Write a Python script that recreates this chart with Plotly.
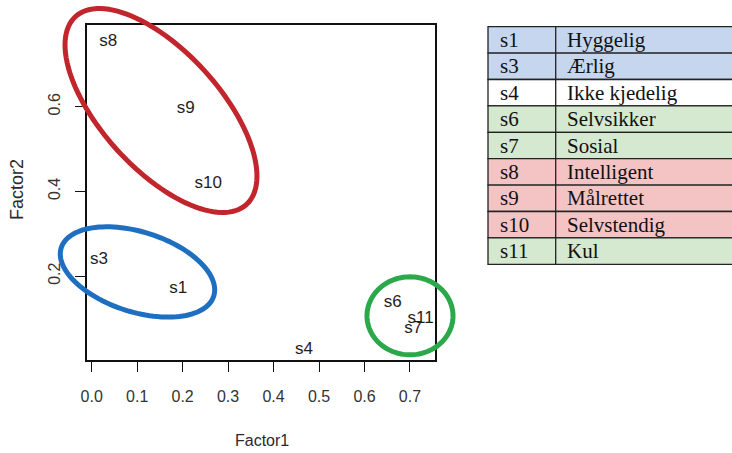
import math
import plotly.graph_objects as go

# ---------------- data ----------------
point_labels = ["s1", "s3", "s4", "s6", "s7", "s8", "s9", "s10", "s11"]
factor1 = [0.1905, 0.016, 0.467, 0.662, 0.707, 0.0365, 0.2067, 0.2565, 0.7235]
factor2 = [0.171, 0.238, 0.0255, 0.136, 0.0744, 0.7535, 0.596, 0.419, 0.100]

x_ticks = [0.0, 0.1, 0.2, 0.3, 0.4, 0.5, 0.6, 0.7]
x_tick_text = ["0.0", "0.1", "0.2", "0.3", "0.4", "0.5", "0.6", "0.7"]
y_ticks = [0.2, 0.4, 0.6]
y_tick_text = ["0.2", "0.4", "0.6"]

table_codes = ["s1", "s3", "s4", "s6", "s7", "s8", "s9", "s10", "s11"]
table_names = ["Hyggelig", "Ærlig", "Ikke kjedelig", "Selvsikker", "Sosial",
               "Intelligent", "Målrettet", "Selvstendig", "Kul"]
table_groups = ["blue", "blue", "none", "green", "green", "red", "red", "red", "green"]

# ---------------- layout constants ----------------
W, H = 732, 453
X_RANGE = [-0.0103, 0.755]
Y_RANGE = [0.0017, 0.793]
BOX_L, BOX_R, BOX_T, BOX_B = 87, 435, 25, 360  # plot box in pixels

GROUP_FILL = {"blue": "#c6d6ee", "green": "#d4e9d0", "red": "#f4c4c4", "none": "#ffffff"}

# ellipse annotations: center (data), semi-axes (px), tilt (deg, clockwise on screen), colour
ellipses = [
    dict(cx=0.1524, cy=0.591, a=127, b=59, ang=47.7, color="#c0262c"),
    dict(cx=0.1007, cy=0.2097, a=80, b=40, ang=17.6, color="#1f6fc1"),
    dict(cx=0.700, cy=0.106, a=43, b=39, ang=0.0, color="#2ba84a"),
]


def px(x, y):
    """data -> pixel"""
    sx = BOX_L + (x - X_RANGE[0]) / (X_RANGE[1] - X_RANGE[0]) * (BOX_R - BOX_L)
    sy = BOX_B - (y - Y_RANGE[0]) / (Y_RANGE[1] - Y_RANGE[0]) * (BOX_B - BOX_T)
    return sx, sy


def paper(sx, sy):
    return sx / W, 1 - sy / H


fig = go.Figure()
fig.add_trace(go.Scatter(
    x=factor1, y=factor2, text=point_labels, mode="text",
    textposition="middle center",
    textfont=dict(family="Liberation Sans, Arial", size=17, color="#1e1e1e"),
    cliponaxis=False, hoverinfo="skip", showlegend=False,
))

shapes = []
for e in ellipses:
    csx, csy = px(e["cx"], e["cy"])
    th = math.radians(e["ang"])
    pts = []
    n = 120
    for i in range(n):
        t = 2 * math.pi * i / n
        dx = e["a"] * math.cos(t) * math.cos(th) - e["b"] * math.sin(t) * math.sin(th)
        dy = e["a"] * math.cos(t) * math.sin(th) + e["b"] * math.sin(t) * math.cos(th)
        pts.append(paper(csx + dx, csy + dy))
    path = "M " + " L ".join(f"{p[0]:.5f},{p[1]:.5f}" for p in pts) + " Z"
    shapes.append(dict(type="path", xref="paper", yref="paper", path=path,
                       line=dict(color=e["color"], width=5), layer="above"))

# table
T_L, T_T, ROW_H, T_DIV, T_R = 488, 26.7, 26.4, 555.7, 760
annotations = []
for i, (code, name, grp) in enumerate(zip(table_codes, table_names, table_groups)):
    y0 = T_T + i * ROW_H
    y1 = y0 + ROW_H
    x0p, y0p = paper(T_L, y0)
    x1p, y1p = paper(T_R, y1)
    shapes.append(dict(type="rect", xref="paper", yref="paper",
                       x0=x0p, x1=x1p, y0=y1p, y1=y0p,
                       fillcolor=GROUP_FILL[grp], line=dict(color="#222222", width=1.3),
                       layer="below"))
    yc = paper(0, (y0 + y1) / 2)[1]
    annotations.append(dict(x=paper(498, 0)[0], y=yc, xref="paper", yref="paper",
                            text=code, showarrow=False, xanchor="left", yanchor="middle",
                            font=dict(family="Liberation Serif, Times New Roman", size=21, color="#111")))
    annotations.append(dict(x=paper(565, 0)[0], y=yc, xref="paper", yref="paper",
                            text=name, showarrow=False, xanchor="left", yanchor="middle",
                            font=dict(family="Liberation Serif, Times New Roman", size=21, color="#111")))
dx0, dy0 = paper(T_DIV, T_T)
dx1, dy1 = paper(T_DIV, T_T + ROW_H * len(table_codes))
shapes.append(dict(type="line", xref="paper", yref="paper", x0=dx0, x1=dx1, y0=dy0, y1=dy1,
                   line=dict(color="#222222", width=1.3), layer="below"))

# axis titles
annotations.append(dict(x=paper(262, 0)[0], y=paper(0, 440)[1], xref="paper", yref="paper",
                        text="Factor1", showarrow=False, xanchor="center", yanchor="middle",
                        font=dict(family="Liberation Sans, Arial", size=16, color="#2a2a2a")))
annotations.append(dict(x=paper(17, 0)[0], y=paper(0, 190)[1], xref="paper", yref="paper",
                        text="Factor2", showarrow=False, textangle=-90,
                        xanchor="center", yanchor="middle",
                        font=dict(family="Liberation Sans, Arial", size=18, color="#2a2a2a")))

axis_common = dict(showgrid=False, zeroline=False, showline=True, mirror=True,
                   linecolor="#111111", linewidth=1.5, ticks="outside", ticklen=10,
                   tickwidth=1.3, tickcolor="#111111", automargin=False,
                   tickfont=dict(family="Liberation Sans, Arial", size=16, color="#333333"))

fig.update_layout(
    width=W, height=H,
    margin=dict(l=0, r=0, t=0, b=0),
    paper_bgcolor="white", plot_bgcolor="white",
    xaxis=dict(domain=[BOX_L / W, BOX_R / W], range=X_RANGE, tickvals=x_ticks,
               ticktext=x_tick_text, ticklabelstandoff=11, **axis_common),
    yaxis=dict(domain=[1 - BOX_B / H, 1 - BOX_T / H], range=Y_RANGE, tickvals=y_ticks,
               ticktext=y_tick_text, tickangle=-90, ticklabelstandoff=9, **axis_common),
    shapes=shapes, annotations=annotations, showlegend=False,
)

fig.write_html("out.html")
